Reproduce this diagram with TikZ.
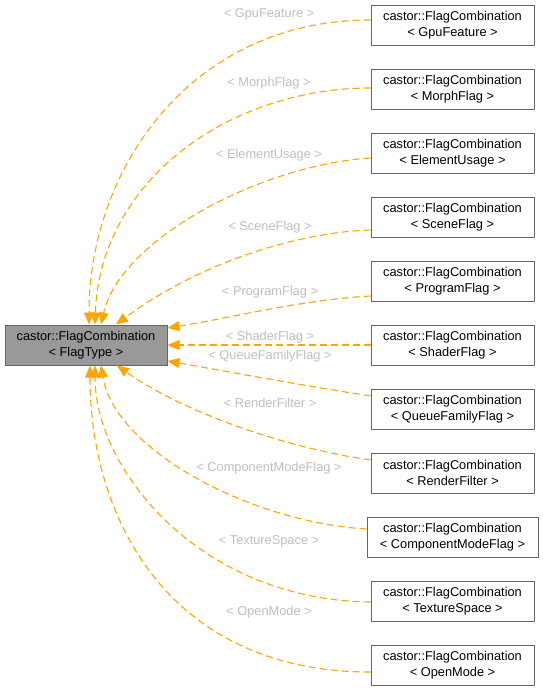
\documentclass[tikz,border=0pt]{standalone}
\usepackage{fontspec}
\setmainfont{Liberation Sans}
\usetikzlibrary{arrows.meta}
\definecolor{edgeor}{HTML}{FFA500}
\definecolor{lblgray}{HTML}{BEBEBE}
\definecolor{bordgray}{HTML}{666666}
\definecolor{mainfill}{HTML}{999999}
\begin{document}
\begin{tikzpicture}[x=1pt,y=-1pt,
  cls/.style={draw=bordgray, line width=1pt, fill=white, minimum width=163pt, minimum height=40pt, inner sep=0pt, align=center, font=\fontsize{12.8}{15.5}\selectfont},
  mainbox/.style={cls, fill=mainfill, minimum width=162pt},
  inh/.style={draw=edgeor, line width=1.1pt, dash pattern=on 7pt off 4pt, -{Triangle[length=12pt,width=10pt,fill=edgeor]}},
  lbl/.style={text=lblgray, font=\fontsize{12.8}{14}\selectfont, inner sep=0pt}]
\useasboundingbox (0,0) rectangle (543,691);

\node[mainbox] (main) at (86,345) {castor::FlagCombination\\< FlagType >};

\node[cls] (gpu)    at (452.5,25)  {castor::FlagCombination\\< GpuFeature >};
\node[cls] (morph)  at (452.5,89)  {castor::FlagCombination\\< MorphFlag >};
\node[cls] (elem)   at (452.5,153) {castor::FlagCombination\\< ElementUsage >};
\node[cls] (scene)  at (452.5,217) {castor::FlagCombination\\< SceneFlag >};
\node[cls] (prog)   at (452.5,281) {castor::FlagCombination\\< ProgramFlag >};
\node[cls] (shader) at (452.5,345) {castor::FlagCombination\\< ShaderFlag >};
\node[cls] (queue)  at (452.5,409) {castor::FlagCombination\\< QueueFamilyFlag >};
\node[cls] (render) at (452.5,473) {castor::FlagCombination\\< RenderFilter >};
\node[cls, minimum width=171pt] (comp) at (452.5,537) {castor::FlagCombination\\< ComponentModeFlag >};
\node[cls] (tex)    at (452.5,601) {castor::FlagCombination\\< TextureSpace >};
\node[cls] (open)   at (452.5,665) {castor::FlagCombination\\< OpenMode >};

\draw[inh] ([yshift=5pt]gpu.west) .. controls (190,20) and (89,170) .. ([xshift=3pt]main.north);
\draw[inh] ([yshift=1pt]morph.west) .. controls (230,88) and (100,180) .. ([xshift=9pt]main.north);
\draw[inh] ([yshift=-5pt]elem.west) .. controls (260,165) and (120,240) .. ([xshift=15pt]main.north);
\draw[inh] ([yshift=-13pt]scene.west) .. controls (300,232) and (200,262) .. ([xshift=30pt]main.north);
\draw[inh] ([yshift=-15pt]prog.west) .. controls (300,300) and (230,318) .. ([yshift=17pt]main.east);
\draw[inh] (shader.west) -- (main.east);
\draw[inh] ([yshift=13pt]queue.west) .. controls (300,385) and (230,372) .. ([yshift=-16pt]main.east);
\draw[inh] ([yshift=13pt]render.west) .. controls (280,447) and (180,410) .. ([xshift=31pt]main.south);
\draw[inh] ([yshift=8pt]comp.west) .. controls (250,522) and (115,450) .. ([xshift=15pt]main.south);
\draw[inh] ([yshift=-1pt]tex.west) .. controls (200,600) and (95,470) .. ([xshift=9pt]main.south);
\draw[inh] ([yshift=-7pt]open.west) .. controls (170,672) and (90,520) .. ([xshift=4pt]main.south);

\node[lbl] (lgpu)    at (269,14)  {< GpuFeature >};
\node[lbl] (lmorph)  at (269,83)  {< MorphFlag >};
\node[lbl] (lelem)   at (269,155) {< ElementUsage >};
\node[lbl] (lscene)  at (270,227) {< SceneFlag >};
\node[lbl] (lprog)   at (270,292) {< ProgramFlag >};
\node[lbl] (lshader) at (270,337) {< ShaderFlag >};
\node[lbl] (lqueue)  at (270,356) {< QueueFamilyFlag >};
\node[lbl] (lrender) at (270,403) {< RenderFilter >};
\node[lbl] (lcomp)   at (269,468) {< ComponentModeFlag >};
\node[lbl] (ltex)    at (269,541) {< TextureSpace >};
\node[lbl] (lopen)   at (269,612) {< OpenMode >};
\end{tikzpicture}
\end{document}
